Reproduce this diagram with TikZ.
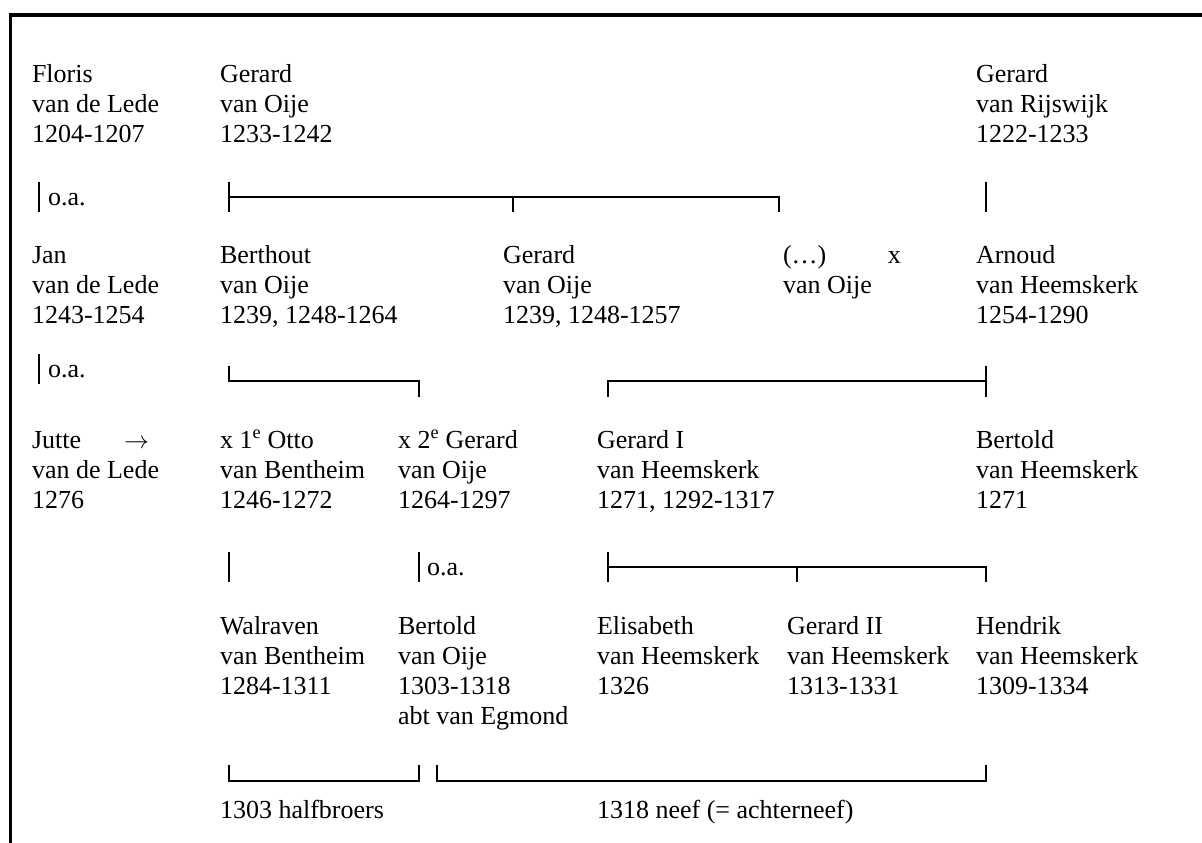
\documentclass[tikz,border=0pt]{standalone}
\usepackage{fontspec}
\setmainfont{Liberation Serif}
\begin{document}
\begin{tikzpicture}[x=1pt,y=-1pt,
  person/.style={anchor=base west,inner sep=0pt,outer sep=0pt,align=left,font=\fontsize{26}{30}\selectfont},
  conn/.style={line width=2pt},
  frameline/.style={line width=3.5pt}]
\useasboundingbox (0,0) rectangle (1202,843);
% frame (top and left only)
\coordinate (fA) at (10.5,843);
\coordinate (fB) at (10.5,15);
\coordinate (fC) at (1202,15);
\draw[frameline] (fA) -- (fB) -- (fC);

% (base anchor = baseline of the last line)
% Row 1
\node[person] (floris) at (32,142) {Floris\\van de Lede\\1204-1207};
\node[person] (gerardO) at (220,142) {Gerard\\van Oije\\1233-1242};
\node[person] (gerardR) at (976,142) {Gerard\\van Rijswijk\\1222-1233};

% Row 2
\node[person] (jan) at (32,323) {Jan\\van de Lede\\1243-1254};
\node[person] (berthout) at (220,323) {Berthout\\van Oije\\1239, 1248-1264};
\node[person] (gerardO2) at (503,323) {Gerard\\van Oije\\1239, 1248-1257};
\node[person] (dots) at (783,293) {\makebox[105pt][l]{(…)}x\\van Oije};
\node[person] (arnoud) at (976,323) {Arnoud\\van Heemskerk\\1254-1290};

% Row 3
\node[person] (jutte) at (32,508) {Jutte\hspace{43pt}$\rightarrow$\\van de Lede\\1276};
\node[person] (otto) at (220,508) {x 1\textsuperscript{e} Otto\\van Bentheim\\1246-1272};
\node[person] (gerardO3) at (398,508) {x 2\textsuperscript{e} Gerard\\van Oije\\1264-1297};
\node[person] (gerardI) at (597,508) {Gerard I\\van Heemskerk\\1271, 1292-1317};
\node[person] (bertoldH) at (976,508) {Bertold\\van Heemskerk\\1271};

% Row 4
\node[person] (walraven) at (220,694) {Walraven\\van Bentheim\\1284-1311};
\node[person] (bertoldO) at (398,724) {Bertold\\van Oije\\1303-1318\\abt van Egmond};
\node[person] (elisabeth) at (597,694) {Elisabeth\\van Heemskerk\\1326};
\node[person] (gerardII) at (787,694) {Gerard II\\van Heemskerk\\1313-1331};
\node[person] (hendrik) at (976,694) {Hendrik\\van Heemskerk\\1309-1334};

% bottom labels
\node[person] (halfb) at (220,818) {1303 halfbroers};
\node[person] (neef) at (597,818) {1318 neef (= achterneef)};

% o.a. labels
\node[person] (oa1) at (48,205) {o.a.};
\node[person] (oa2) at (48,377) {o.a.};
\node[person] (oa3) at (427,575) {o.a.};

% ---- connectors row 1
\coordinate (a1t) at (39,182); \coordinate (a1b) at (39,212);
\draw[conn] (a1t) -- (a1b);
\coordinate (b1t) at (229,182); \coordinate (b1b) at (229,212);
\coordinate (b1l) at (229,197); \coordinate (b1m) at (513,197); \coordinate (b1r) at (779,197);
\coordinate (b1mb) at (513,212); \coordinate (b1rb) at (779,212);
\draw[conn] (b1t) -- (b1b);
\draw[conn] (b1l) -- (b1r) -- (b1rb);
\draw[conn] (b1m) -- (b1mb);
\coordinate (c1t) at (986,182); \coordinate (c1b) at (986,212);
\draw[conn] (c1t) -- (c1b);

% ---- connectors row 2
\coordinate (a2t) at (39,354); \coordinate (a2b) at (39,384);
\draw[conn] (a2t) -- (a2b);
\coordinate (b2a) at (229,366); \coordinate (b2b) at (229,381);
\coordinate (b2c) at (419,381); \coordinate (b2d) at (419,397);
\draw[conn] (b2a) -- (b2b) -- (b2c) -- (b2d);
\coordinate (c2a) at (608,397); \coordinate (c2b) at (608,381);
\coordinate (c2c) at (986,381);
\coordinate (c2t) at (986,366); \coordinate (c2bt) at (986,397);
\draw[conn] (c2a) -- (c2b) -- (c2c);
\draw[conn] (c2t) -- (c2bt);

% ---- connectors row 3
\coordinate (a3t) at (229,552); \coordinate (a3b) at (229,582);
\draw[conn] (a3t) -- (a3b);
\coordinate (o3t) at (419,552); \coordinate (o3b) at (419,582);
\draw[conn] (o3t) -- (o3b);
\coordinate (b3t) at (608,552); \coordinate (b3b) at (608,582);
\coordinate (b3l) at (608,567); \coordinate (b3m) at (797,567); \coordinate (b3r) at (986,567);
\coordinate (b3mb) at (797,582); \coordinate (b3rb) at (986,582);
\draw[conn] (b3t) -- (b3b);
\draw[conn] (b3l) -- (b3r) -- (b3rb);
\draw[conn] (b3m) -- (b3mb);

% ---- connectors row 4
\coordinate (d1) at (229,765); \coordinate (d2) at (229,781);
\coordinate (d3) at (419,781); \coordinate (d4) at (419,765);
\draw[conn] (d1) -- (d2) -- (d3) -- (d4);
\coordinate (e1) at (437,765); \coordinate (e2) at (437,781);
\coordinate (e3) at (986,781); \coordinate (e4) at (986,765);
\draw[conn] (e1) -- (e2) -- (e3) -- (e4);
\end{tikzpicture}
\end{document}
